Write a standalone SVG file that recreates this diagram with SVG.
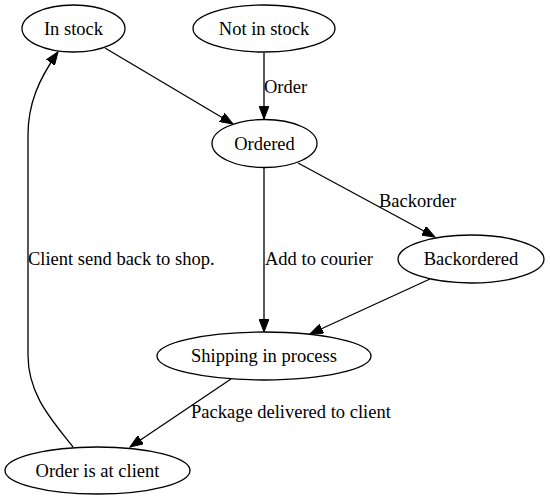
<svg xmlns="http://www.w3.org/2000/svg" width="550" height="500" viewBox="0 0 550 500">
<style>
.node ellipse{fill:none;stroke:#000;stroke-width:1.3}
text{font-family:"Liberation Serif","Times New Roman",serif;font-size:18.5px;fill:#000}
.node text{text-anchor:middle}
.edge{fill:none;stroke:#000;stroke-width:1.3;marker-end:url(#arr)}
</style>
<defs>
<marker id="arr" markerUnits="userSpaceOnUse" markerWidth="14" markerHeight="10" refX="13" refY="5" orient="auto" viewBox="0 0 14 10">
<path d="M0,0 L13,5 L0,10 z" fill="#000" stroke="#000" stroke-width="1"/>
</marker>
</defs>
<rect width="550" height="500" fill="#fff"/>
<g id="edges">
<path class="edge" d="M105,48 L233,124"/>
<path class="edge" d="M264,53 L264,119"/>
<text x="264" y="93">Order</text>
<path class="edge" d="M298,163 L435,237"/>
<text x="379" y="207">Backorder</text>
<path class="edge" d="M264,168 L264,332"/>
<text x="265" y="265">Add to courier</text>
<path class="edge" d="M430,279 L310,334"/>
<path class="edge" d="M231,379 L130,447"/>
<text x="191" y="418">Package delivered to client</text>
<path class="edge" d="M73,447 C52,420 28,395 28,355 L28,135 C28,105 38,80 58,52"/>
<text x="28" y="265">Client send back to shop.</text>
</g>
<g id="in_stock" class="node"><ellipse cx="73.5" cy="28.5" rx="51.5" ry="23.5"/><text x="73.5" y="34.5">In stock</text></g>
<g id="not_in_stock" class="node"><ellipse cx="264" cy="28.5" rx="71" ry="23.5"/><text x="264" y="34.5">Not in stock</text></g>
<g id="ordered" class="node"><ellipse cx="264.5" cy="143.5" rx="52.5" ry="24"/><text x="264.5" y="149.5">Ordered</text></g>
<g id="backordered" class="node"><ellipse cx="471" cy="259" rx="73" ry="24"/><text x="471" y="265">Backordered</text></g>
<g id="shipping" class="node"><ellipse cx="264" cy="356" rx="107" ry="24"/><text x="264" y="362">Shipping in process</text></g>
<g id="at_client" class="node"><ellipse cx="97.5" cy="470.5" rx="92.5" ry="23.5"/><text x="97.5" y="476.5">Order is at client</text></g>
</svg>
